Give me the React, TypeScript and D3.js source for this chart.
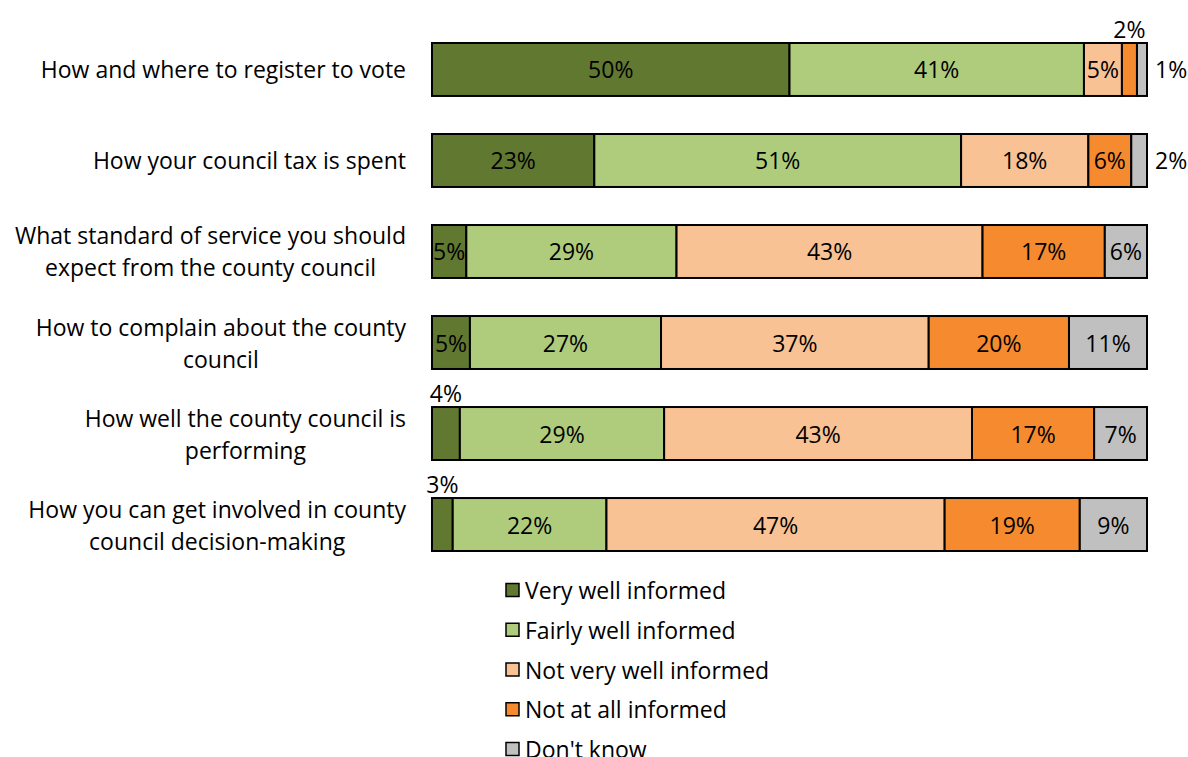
import React from "react";
import * as d3 from "d3";

const categories = [
  "How and where to register to vote",
  "How your council tax is spent",
  "What standard of service you should|expect from the county council",
  "How to complain about the county|council",
  "How well the county council is|performing",
  "How you can get involved in county|council decision-making",
];
const seriesNames = [
  "Very well informed",
  "Fairly well informed",
  "Not very well informed",
  "Not at all informed",
  "Don't know",
];
const veryWell = [49.9, 22.7, 4.8, 5.3, 3.9, 2.9];
const fairlyWell = [41.1, 51.3, 29.4, 26.7, 28.6, 21.5];
const notVeryWell = [5.3, 17.8, 42.8, 37.4, 43.1, 47.3];
const notAtAll = [2.1, 6.0, 17.1, 19.6, 17.1, 18.9];
const dontKnow = [1.4, 2.2, 5.9, 10.9, 7.4, 9.4];
const colors = ["#607830", "#AFCB7C", "#F9C294", "#F58A2E", "#C0C0C0"];

const FONT = "'Open Sans', sans-serif";
const FS = 23;

function measure(text: string): number {
  const c = document.createElement("canvas").getContext("2d");
  if (!c) return text.length * 11;
  c.font = `${FS}px ${FONT}`;
  return c.measureText(text).width;
}

export default function App() {
  const W = 1188, H = 757;
  const seriesArrays = [veryWell, fairlyWell, notVeryWell, notAtAll, dontKnow];
  const rows = categories.map((c, i) => {
    const r: any = { cat: c };
    seriesNames.forEach((s, j) => (r[s] = seriesArrays[j][i]));
    return r;
  });
  const stack = d3.stack<any>().keys(seriesNames).offset(d3.stackOffsetExpand);
  const stacked = stack(rows);
  const x = d3.scaleLinear().domain([0, 1]).range([432, 1147]);
  const y = d3.scaleBand<string>().domain(categories).range([43, 551]).paddingInner(0.418).paddingOuter(0);
  const bw = y.bandwidth();
  const labelRight = 406;
  const legendY = d3.scaleLinear().domain([0, 4]).range([590, 749]);

  return (
    <svg width={W} height={H} style={{ position: "fixed", left: 0, top: 0, background: "#fff" }} fontFamily={FONT} fontSize={FS}>
      {categories.map((c) => {
        const lines = c.split("|");
        const yc = (y(c) as number) + bw / 2;
        const maxW = Math.max(...lines.map(measure));
        const cx = labelRight - maxW / 2;
        return lines.map((ln, k) => (
          <text key={c + k} x={lines.length === 1 ? labelRight : cx} y={yc + (k - (lines.length - 1) / 2) * 32}
            textAnchor={lines.length === 1 ? "end" : "middle"} dominantBaseline="central" fill="#000">
            {ln}
          </text>
        ));
      })}
      {stacked.map((s, si) =>
        s.map((d, i) => {
          const cat = categories[i];
          const x0 = x(d[0]), x1 = x(d[1]);
          const top = y(cat) as number;
          return (
            <rect key={si + "-" + i} x={x0} y={top} width={x1 - x0} height={bw}
              fill={colors[si]} stroke="#000" strokeWidth={2} />
          );
        })
      )}
      {stacked.map((s, si) =>
        s.map((d, i) => {
          const cat = categories[i];
          const x0 = x(d[0]), x1 = x(d[1]);
          const top = y(cat) as number;
          const w = x1 - x0;
          const label = Math.round(seriesArrays[si][i]) + "%";
          const last = si === seriesNames.length - 1;
          let tx = (x0 + x1) / 2, ty = top + bw / 2, anchor = "middle";
          if (w < 30) {
            if (last) { tx = x1 + 8; anchor = "start"; }
            else { ty = top - 14; }
          }
          return (
            <text key={"l" + si + "-" + i} x={tx} y={ty} textAnchor={anchor} dominantBaseline="central" fill="#000">
              {label}
            </text>
          );
        })
      )}
      {seriesNames.map((s, i) => (
        <g key={s}>
          <rect x={506} y={legendY(i) - 6.5} width={13} height={13} fill={colors[i]} stroke="#000" strokeWidth={1.5} />
          <text x={525} y={legendY(i)} dominantBaseline="central" fill="#000">{s}</text>
        </g>
      ))}
    </svg>
  );
}
